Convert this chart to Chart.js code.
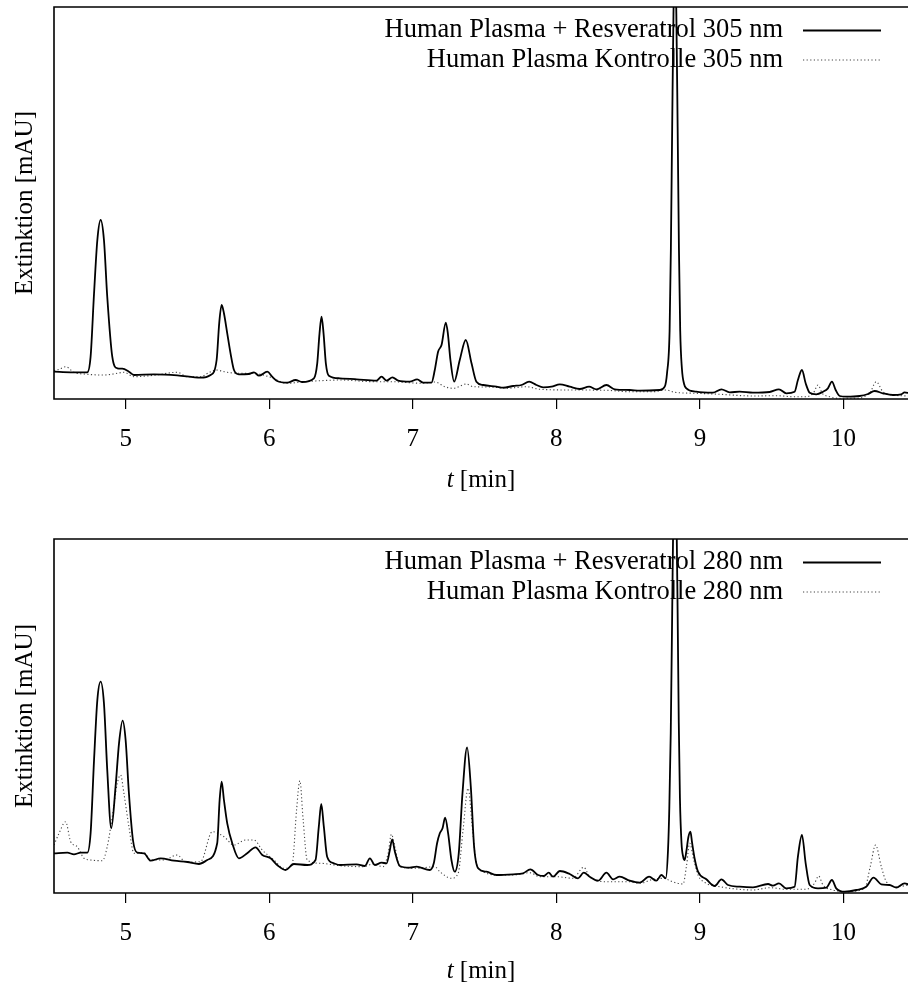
<!DOCTYPE html>
<html>
<head>
<meta charset="utf-8">
<script src="https://cdn.jsdelivr.net/npm/chart.js@4.4.0/dist/chart.umd.min.js"></script>
<style>
  html, body { margin: 0; padding: 0; background: #fff; }
  #wrap { position: relative; width: 908px; height: 989px; }
  .panel { position: absolute; left: 0; width: 908px; }
</style>
</head>
<body>
<div id="wrap">
  <div class="panel" style="top:0;height:500px"><canvas id="c305" width="908" height="500"></canvas></div>
  <div class="panel" style="top:500px;height:489px"><canvas id="c280" width="908" height="489"></canvas></div>
</div>
<script>
// Retention time axis [min]
const tMinTicks = [5, 6, 7, 8, 9, 10];

// 305 nm traces: [t (min), absorbance]
const res305 = [
  [4.50,27.3],[4.616,26.7],[4.732,26.7],[4.755,42.3],[4.779,105.7],[4.802,159],[4.825,179],[4.848,159],
  [4.871,102.3],[4.906,42.3],[4.941,30.7],[4.976,30.3],[5.022,27.3],[5.057,24],[5.196,24.7],[5.359,23.7],
  [5.521,21.3],[5.591,24],[5.633,39],[5.651,75.7],[5.668,94],[5.684,85.7],[5.707,65.7],[5.730,45.7],
  [5.754,29],[5.788,24.7],[5.858,25],[5.893,26.7],[5.928,23.3],[5.986,27.3],[6.020,22.3],[6.055,18],
  [6.125,16.3],[6.183,19],[6.229,17],[6.311,20.7],[6.334,35.7],[6.350,65.7],[6.364,82.3],[6.378,65.7],
  [6.394,35.7],[6.415,23.3],[6.492,20.7],[6.608,19.7],[6.747,18.3],[6.782,22.3],[6.817,18.3],[6.858,21.7],
  [6.898,18.3],[6.979,17.3],[7.030,19.7],[7.072,16.3],[7.130,16.3],[7.153,29],[7.176,47.3],[7.200,54],
  [7.230,76.3],[7.244,65.7],[7.262,39],[7.288,17.3],[7.327,39],[7.369,59],[7.409,35.7],[7.443,17.3],
  [7.490,14],[7.583,12.3],[7.629,11.3],[7.699,13],[7.757,14],[7.810,17.3],[7.861,14],[7.908,11.7],
  [7.966,12.3],[8.024,14.7],[8.093,12.3],[8.163,10],[8.228,12.3],[8.279,9.7],[8.349,14],[8.407,9.7],
  [8.511,9],[8.581,8.3],[8.720,9],[8.755,12.3],[8.771,25.7],[8.789,68],[8.798,151],[8.807,272],
  [8.816,385],[8.826,443],[8.836,385],[8.845,272],[8.854,151],[8.863,68],[8.875,30],[8.890,15],
  [8.906,10.7],[8.975,7.3],[9.091,6.3],[9.150,9.7],[9.208,6.7],[9.277,7.3],[9.370,6.3],[9.486,7],
  [9.551,9.7],[9.602,5.7],[9.660,7.3],[9.683,19],[9.711,29],[9.737,15.7],[9.765,6.3],[9.811,4.7],
  [9.858,7.3],[9.892,10.7],[9.920,17.3],[9.946,9],[9.974,3],[10.020,2.3],[10.113,3],[10.171,5],
  [10.217,8],[10.275,5.7],[10.345,4],[10.403,4.7],[10.426,6.7],[10.461,5.7]
];
const ctl305 = [
  [4.50,28.3],[4.535,29.7],[4.581,32.3],[4.639,26.7],[4.732,24.7],[4.848,24],[4.941,25.7],[4.987,26.7],
  [5.057,22.3],[5.196,23.7],[5.359,26.7],[5.429,22.3],[5.521,22.3],[5.579,26.3],[5.626,29],[5.707,26.7],
  [5.800,25.7],[5.893,25.7],[6.009,21.7],[6.125,15.7],[6.241,17.3],[6.357,18.3],[6.492,19],[6.724,17.3],
  [6.840,17.3],[7.072,15.7],[7.153,17],[7.223,12.3],[7.281,10.7],[7.374,15],[7.420,12.3],[7.536,12],
  [7.652,10.7],[7.791,12.3],[7.884,9.7],[8.116,9],[8.349,8.7],[8.511,7.3],[8.674,7.3],[8.766,9],
  [8.825,6.7],[8.975,5.7],[9.138,4.7],[9.370,3],[9.533,3.3],[9.649,2.3],[9.741,2.3],[9.792,6.3],
  [9.823,14],[9.853,5.7],[9.904,2.3],[9.974,0.7],[10.066,0.7],[10.182,5.7],[10.229,17.3],[10.275,7.3],
  [10.345,4],[10.461,3]
];

// 280 nm traces: [t (min), absorbance]
const res280 = [
  [4.50,39.7],[4.593,40.3],[4.639,38.7],[4.686,40.3],[4.732,40.3],[4.755,59.7],[4.779,133],[4.802,193],
  [4.825,211.3],[4.848,189.7],[4.871,123],[4.899,64.7],[4.929,106.3],[4.953,149.7],[4.978,172.3],[4.999,153],
  [5.022,99.7],[5.050,53],[5.080,40.3],[5.127,39.7],[5.173,32.3],[5.243,34.7],[5.336,32.3],[5.429,31],
  [5.510,29],[5.568,33],[5.637,49.7],[5.654,93],[5.668,111.3],[5.684,93],[5.707,69.7],[5.742,49.7],
  [5.788,34.7],[5.846,39.7],[5.904,45.7],[5.951,38],[6.009,34.7],[6.055,28],[6.113,23],[6.171,29],
  [6.264,28],[6.322,33],[6.345,66.3],[6.362,89],[6.380,66.3],[6.403,36.3],[6.450,29.7],[6.492,28],
  [6.608,28.7],[6.666,27],[6.701,34.7],[6.735,28],[6.782,30.3],[6.817,29.7],[6.840,43],[6.856,53.7],
  [6.875,41.3],[6.909,27],[6.979,25.3],[7.026,26.3],[7.118,23],[7.146,29.7],[7.169,49.7],[7.188,59.7],
  [7.207,64.7],[7.225,75.3],[7.246,59.7],[7.269,33],[7.292,21.3],[7.320,39.7],[7.346,99.7],[7.378,145.7],
  [7.404,106.3],[7.427,46.3],[7.455,24.7],[7.513,21.3],[7.583,18],[7.699,18.7],[7.768,19.7],[7.819,23.7],
  [7.873,18],[7.912,17],[7.947,20.3],[7.977,16.3],[8.024,22],[8.093,19],[8.151,14.7],[8.191,20.3],
  [8.232,16.3],[8.291,12.3],[8.349,20.3],[8.395,13.7],[8.441,16.3],[8.511,12.3],[8.581,10.3],[8.646,16.3],
  [8.697,12.3],[8.732,18],[8.762,14.7],[8.778,43],[8.787,85],[8.797,160],[8.807,280],[8.816,390],
  [8.826,440],[8.836,390],[8.845,280],[8.853,170],[8.861,95],[8.872,50],[8.884,36],[8.894,33],
  [8.906,42],[8.920,56],[8.934,61.3],[8.946,50],[8.964,34],[8.987,21.3],[9.045,13.7],[9.103,7],
  [9.150,13.7],[9.196,8],[9.277,6.3],[9.370,5.7],[9.475,9],[9.509,7.3],[9.551,9.7],[9.602,4.7],
  [9.660,6.3],[9.683,36.3],[9.711,58],[9.737,29.7],[9.765,8],[9.823,4.7],[9.881,5.3],[9.920,13],
  [9.950,4.7],[10.008,1.3],[10.090,3],[10.159,6.3],[10.210,15.3],[10.264,8.7],[10.322,8],[10.368,5.3],
  [10.426,9.7],[10.461,8]
];
const ctl280 = [
  [4.50,48],[4.535,59.7],[4.581,71.3],[4.616,51.3],[4.662,46.3],[4.709,34.7],[4.755,33],[4.837,32.3],
  [4.871,46.3],[4.906,76.3],[4.941,109.7],[4.964,118],[4.987,99.7],[5.022,66.3],[5.057,39.7],[5.127,40.3],
  [5.173,33],[5.266,33],[5.359,38],[5.417,31],[5.521,31.3],[5.603,61.3],[5.684,56.3],[5.754,48],
  [5.835,53],[5.893,53],[5.951,43],[6.032,33],[6.102,24.7],[6.160,29],[6.190,83],[6.213,112.3],
  [6.236,73],[6.264,33],[6.357,29.7],[6.492,27.3],[6.654,26.3],[6.724,29],[6.793,26.3],[6.828,39.7],
  [6.851,58.7],[6.875,46.3],[6.909,26.3],[7.026,24.7],[7.153,26.3],[7.188,21.3],[7.269,14.7],[7.316,19.7],
  [7.350,63],[7.385,104.7],[7.416,63],[7.443,29.7],[7.490,21.3],[7.583,18],[7.699,18],[7.815,20.3],
  [7.884,16.3],[8.000,16.3],[8.116,14.7],[8.191,25.7],[8.232,16.3],[8.349,11.3],[8.511,11.3],[8.581,9.7],
  [8.674,13.7],[8.755,14.7],[8.790,12.3],[8.883,9],[8.906,26.3],[8.929,49.7],[8.957,33],[8.987,18],
  [9.045,9.7],[9.138,6.3],[9.254,4],[9.370,3],[9.486,5.3],[9.602,3.7],[9.741,3.7],[9.799,9.7],
  [9.827,17],[9.858,8],[9.927,3],[10.020,1.3],[10.148,4.7],[10.187,26.3],[10.224,48],[10.264,26.3],
  [10.299,11.3],[10.368,6.3],[10.461,8]
];

const labels305 = ['Human Plasma + Resveratrol 305 nm', 'Human Plasma Kontrolle 305 nm'];
const labels280 = ['Human Plasma + Resveratrol 280 nm', 'Human Plasma Kontrolle 280 nm'];

const FONT = "'Liberation Serif', 'DejaVu Serif', serif";
const FSIZE = 25;
const LEGEND_SIZE = 26.5;

const toXY = (pairs) => pairs.map(([x, y]) => ({ x, y }));

// box around the plot area (top, left, bottom)
const frame = {
  id: 'frame',
  afterDatasetsDraw(chart) {
    const { ctx, chartArea: a } = chart;
    ctx.save();
    ctx.strokeStyle = '#000';
    ctx.lineWidth = 1.6;
    ctx.beginPath();
    ctx.moveTo(a.right + 2, a.top);
    ctx.lineTo(a.left, a.top);
    ctx.lineTo(a.left, a.bottom);
    ctx.lineTo(a.right + 2, a.bottom);
    ctx.stroke();
    ctx.restore();
  }
};

// legend in the upper right corner: text first, line sample after it
const insideLegend = {
  id: 'insideLegend',
  afterDatasetsDraw(chart) {
    const { ctx, chartArea: a } = chart;
    ctx.save();
    ctx.font = `${LEGEND_SIZE}px ${FONT}`;
    ctx.textAlign = 'right';
    ctx.textBaseline = 'middle';
    chart.data.datasets.forEach((ds, i) => {
      const y = a.top + 23.5 + i * 29.5;
      ctx.fillStyle = '#000';
      ctx.fillText(ds.label, a.right - 125, y);
      ctx.strokeStyle = ds.borderColor;
      ctx.lineWidth = ds.borderWidth;
      ctx.setLineDash(ds.borderDash || []);
      ctx.beginPath();
      ctx.moveTo(a.right - 105, y);
      ctx.lineTo(a.right - 27, y);
      ctx.stroke();
      ctx.setLineDash([]);
    });
    ctx.restore();
  }
};

// x axis title with italic "t"
const timeTitle = {
  id: 'timeTitle',
  afterDraw(chart, args, opts) {
    const { ctx, chartArea: a } = chart;
    const y = a.bottom + opts.offset;
    const rest = ' [min]';
    ctx.save();
    ctx.fillStyle = '#000';
    ctx.textBaseline = 'middle';
    ctx.textAlign = 'left';
    ctx.font = `italic ${FSIZE}px ${FONT}`;
    const wT = ctx.measureText('t').width;
    ctx.font = `${FSIZE}px ${FONT}`;
    const wR = ctx.measureText(rest).width;
    const x0 = (a.left + a.right) / 2 - (wT + wR) / 2;
    ctx.font = `italic ${FSIZE}px ${FONT}`;
    ctx.fillText('t', x0, y);
    ctx.font = `${FSIZE}px ${FONT}`;
    ctx.fillText(rest, x0 + wT, y);
    ctx.restore();
  }
};

function makeChart(id, series, labels, yMax, padTop, axisH, titleOffset) {
  return new Chart(document.getElementById(id), {
    type: 'line',
    data: {
      datasets: [
        {
          label: labels[0],
          data: toXY(series[0]),
          borderColor: '#000',
          borderWidth: 1.8,
        },
        {
          label: labels[1],
          data: toXY(series[1]),
          borderColor: '#444',
          borderWidth: 1.1,
          borderDash: [1.2, 2.4],
        },
      ],
    },
    options: {
      responsive: false,
      animation: false,
      devicePixelRatio: 1,
      layout: { padding: { top: padTop, left: 0, right: 0, bottom: 0 } },
      elements: {
        point: { radius: 0 },
        line: { cubicInterpolationMode: 'monotone', fill: false },
      },
      plugins: {
        legend: { display: false },
        tooltip: { enabled: false },
        timeTitle: { offset: titleOffset },
      },
      scales: {
        x: {
          type: 'linear',
          min: 4.5,
          max: 10.45,
          afterBuildTicks: (s) => { s.ticks = tMinTicks.map((v) => ({ value: v })); },
          afterFit: (s) => { s.height = axisH; },
          grid: { drawOnChartArea: false, drawTicks: true, tickLength: 10, color: '#000', lineWidth: 1.2 },
          border: { display: false },
          ticks: { font: { family: FONT, size: FSIZE }, color: '#000', padding: 15, maxRotation: 0 },
        },
        y: {
          min: 0,
          max: yMax,
          afterFit: (s) => { s.width = 54; },
          grid: { display: false },
          border: { display: false },
          ticks: { display: false },
          title: {
            display: true,
            text: 'Extinktion [mAU]',
            font: { family: FONT, size: FSIZE },
            color: '#000',
            padding: { top: 10 },
          },
        },
      },
    },
    plugins: [frame, insideLegend, timeTitle],
  });
}

makeChart('c305', [res305, ctl305], labels305, 392, 7, 101, 81);
makeChart('c280', [res280, ctl280], labels280, 354, 39, 96, 78);
</script>
</body>
</html>
